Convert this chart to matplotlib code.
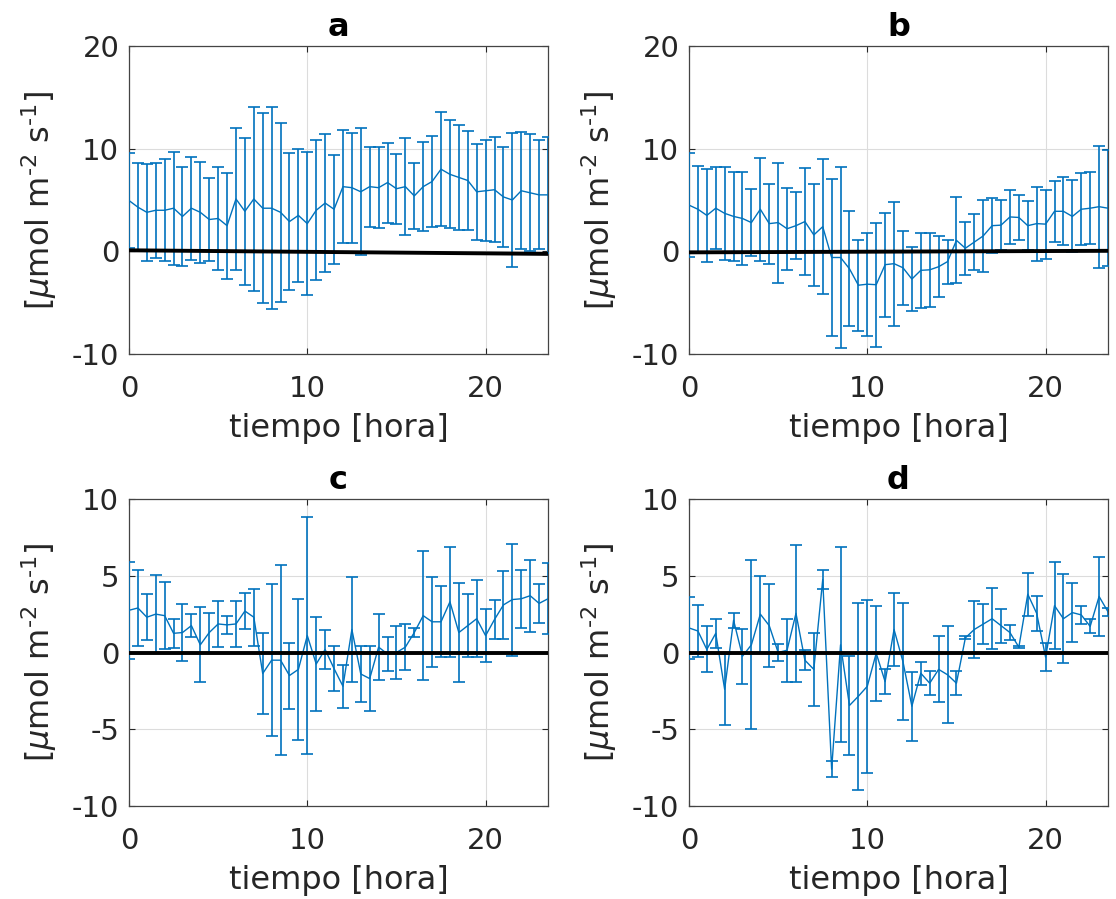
import numpy as np
import matplotlib
matplotlib.use("Agg")
import matplotlib.pyplot as plt

plt.rcParams["axes.unicode_minus"] = False

hours = np.arange(48) * 0.5

mean_a = [4.95, 4.3, 3.8, 4.0, 4.0, 4.2, 3.4, 4.2, 3.8, 3.1, 3.2, 2.5, 5.1, 3.9, 5.1, 4.2,
          4.2, 3.8, 2.9, 3.5, 2.7, 4.0, 4.7, 4.1, 6.3, 6.2, 5.8, 6.3, 6.2, 6.7, 6.1, 6.3,
          5.4, 6.3, 6.8, 8.0, 7.5, 7.2, 6.9, 5.8, 5.9, 6.0, 5.3, 5.0, 5.9, 5.7, 5.5, 5.5]
err_a = [4.6, 4.3, 4.75, 4.65, 4.95, 5.5, 4.85, 5.0, 4.9, 4.05, 5.05, 5.15, 6.9, 7.15, 8.95, 9.25,
         9.85, 8.7, 6.65, 6.5, 7.0, 6.8, 6.75, 5.3, 5.5, 5.35, 6.2, 3.9, 3.95, 3.9, 3.4, 4.75,
         3.2, 4.35, 4.45, 5.55, 5.25, 5.15, 4.85, 4.65, 4.9, 5.1, 4.9, 6.55, 5.7, 5.7, 5.3, 5.65]

mean_b = [4.5, 4.1, 3.5, 4.2, 3.7, 3.4, 3.2, 2.8, 4.1, 2.7, 2.8, 2.2, 2.5, 2.9, 1.6, 2.4,
          -0.6, -0.6, -1.7, -3.3, -3.2, -3.25, -1.3, -1.2, -1.6, -2.7, -1.85, -1.8, -1.5, -1.0, 1.07, 0.3,
          0.9, 1.5, 2.5, 2.55, 3.35, 3.3, 2.5, 2.7, 2.65, 3.9, 3.9, 3.4, 4.1, 4.2, 4.35, 4.2]
err_b = [5.1, 4.2, 4.55, 4.0, 4.55, 4.35, 4.55, 3.3, 5.0, 3.9, 5.85, 4.0, 3.25, 5.2, 4.95, 6.55,
         7.65, 8.8, 5.6, 4.45, 5.0, 6.05, 5.05, 6.05, 3.6, 3.1, 3.65, 3.6, 2.95, 2.15, 4.2, 2.6,
         2.7, 3.5, 2.7, 2.45, 2.65, 2.2, 2.4, 3.6, 3.35, 2.95, 3.3, 3.5, 3.5, 3.5, 5.95, 5.65]

mean_c = [2.75, 2.9, 2.3, 2.5, 2.4, 1.25, 1.3, 1.75, 0.5, 1.3, 1.86, 1.8, 1.86, 2.7, 2.3, -1.37,
          -0.5, -0.5, -1.5, -1.1, 1.1, -0.75, 0.2, -1.05, -2.2, 1.5, -1.4, -1.7, 0.35, -0.1, 0.0, 0.35,
          1.3, 2.4, 2.0, 2.0, 3.3, 1.3, 1.75, 2.2, 1.1, 2.15, 3.1, 3.45, 3.5, 3.7, 3.2, 3.5]
err_c = [3.15, 2.5, 1.5, 2.55, 2.2, 0.95, 1.85, 0.75, 2.45, 1.3, 1.5, 0.6, 1.5, 1.15, 1.85, 2.65,
         4.95, 6.2, 2.15, 4.6, 7.7, 3.05, 1.25, 1.45, 1.4, 3.4, 1.8, 2.1, 2.15, 1.1, 1.7, 1.5,
         0.3, 4.2, 2.95, 2.3, 3.6, 3.25, 2.05, 2.5, 1.75, 1.3, 2.2, 3.65, 1.9, 2.35, 1.25, 2.3]

mean_d = [1.6, 1.4, 0.2, 1.25, -2.4, 2.1, -0.24, 0.5, 2.5, 1.75, 0.0, 0.15, 2.55, -0.5, -1.1, 4.75,
          -7.6, 0.5, -3.45, -2.85, -2.2, -0.05, -1.9, 1.5, -0.6, -3.5, -1.35, -2.0, -1.1, -1.45, -2.0, 0.95,
          1.5, 1.85, 2.2, 1.75, 1.3, 0.35, 3.8, 2.55, -0.3, 3.05, 2.2, 2.6, 2.45, 1.7, 3.65, 2.65]
err_d = [2.0, 1.7, 1.5, 0.95, 2.3, 0.5, 1.8, 5.5, 2.5, 2.7, 0.55, 2.05, 4.45, 0.65, 2.4, 0.6,
         0.5, 6.35, 3.2, 6.1, 5.65, 3.1, 0.8, 2.4, 3.8, 2.25, 0.75, 0.8, 2.15, 3.15, 0.8, 0.1,
         1.85, 1.3, 2.0, 1.1, 0.5, 0.05, 1.4, 1.15, 0.9, 2.85, 2.9, 1.9, 0.6, 0.45, 2.6, 0.25]

zero_x = [0.0, 23.5]
zero_a = [0.1, -0.25]
zero_b = [-0.1, 0.05]
zero_c = [0.0, 0.0]
zero_d = [0.0, 0.0]

titles = ["a", "b", "c", "d"]
ylims = [(-10, 20), (-10, 20), (-10, 10), (-10, 10)]
yticks = [[-10, 0, 10, 20], [-10, 0, 10, 20], [-10, -5, 0, 5, 10], [-10, -5, 0, 5, 10]]
xticks = [0, 10, 20]
xlabel = "tiempo [hora]"
ylabel = r"[$\mu$mol m$^{\text{-2}}$ s$^{\text{-1}}$]"

means = [mean_a, mean_b, mean_c, mean_d]
errs = [err_a, err_b, err_c, err_d]
zeros = [zero_a, zero_b, zero_c, zero_d]

W, H = 1116, 899
fig = plt.figure(figsize=(W / 100, H / 100), dpi=100)

boxes = [(129, 46, 548, 354), (689, 46, 1108, 354), (129, 499, 548, 806), (689, 499, 1108, 806)]

blue = "#0072BD"
dark = "#262626"
for k in range(4):
    l, t, r, b = boxes[k]
    ax = fig.add_axes([l / W, 1 - b / H, (r - l) / W, (b - t) / H])
    ax.errorbar(hours, means[k], yerr=errs[k], color=blue, lw=1.0, elinewidth=1.2,
                capsize=4.0, capthick=1.2, zorder=3)
    ax.plot(zero_x, zeros[k], color="black", lw=2.8, zorder=4)
    ax.set_xlim(0, 23.5)
    ax.set_ylim(*ylims[k])
    ax.set_xticks(xticks)
    ax.set_yticks(yticks[k])
    ax.grid(True, color="#dcdcdc", lw=0.8)
    ax.set_axisbelow(True)
    ax.tick_params(direction="in", length=4, width=0.8, colors=dark, labelsize=21,
                   top=True, right=True)
    ax.tick_params(axis="x", pad=15)
    ax.tick_params(axis="y", pad=7)
    for s in ax.spines.values():
        s.set_color("#444444")
        s.set_linewidth(0.9)
    ax.set_title(titles[k], fontsize=23, fontweight="bold", pad=7)
    ax.set_xlabel(xlabel, fontsize=23, color=dark, labelpad=7)
    ax.set_ylabel(ylabel, fontsize=23, color=dark, labelpad=9)

fig.savefig("out.png", dpi=100)
